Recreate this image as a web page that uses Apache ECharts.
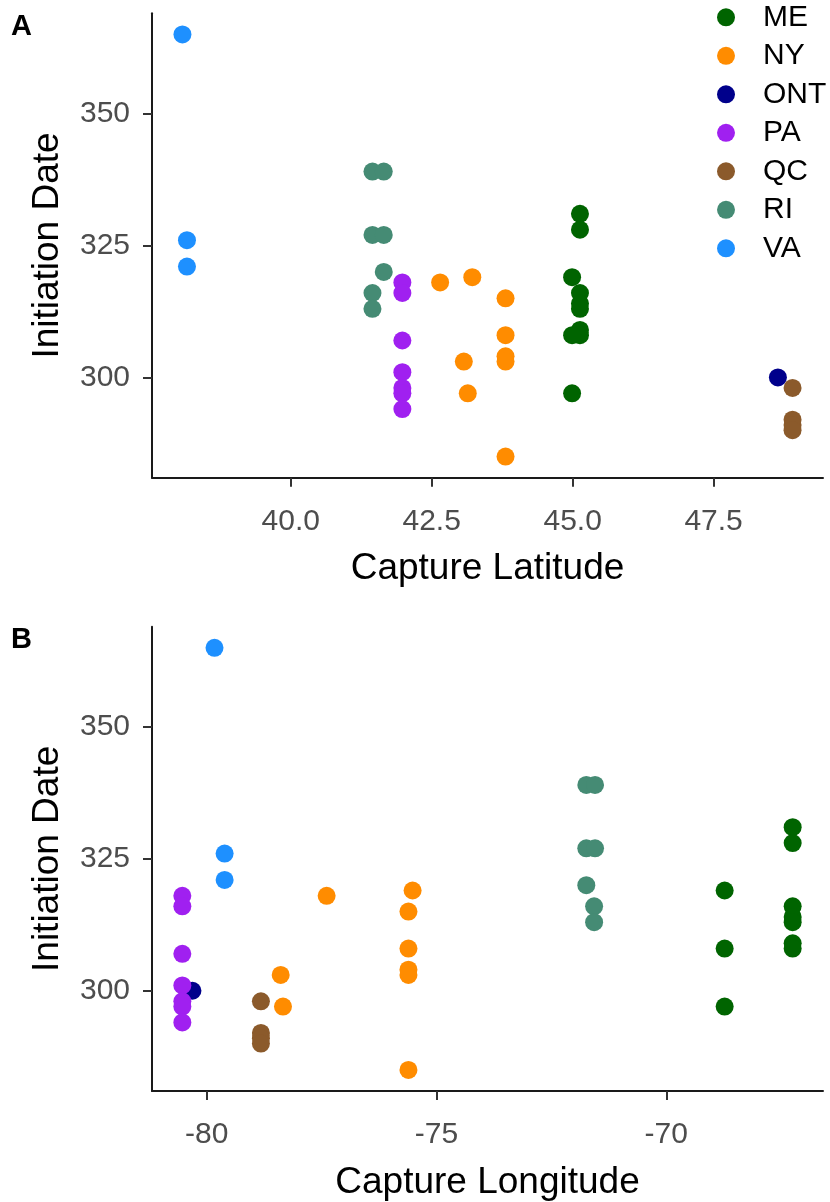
<!DOCTYPE html>
<html>
<head>
<meta charset="utf-8">
<script src="https://cdn.jsdelivr.net/npm/echarts@6/dist/echarts.min.js"></script>
<style>html,body{margin:0;padding:0;background:#fff}#c{width:830px;height:1202px}</style>
</head>
<body>
<div id="c"></div>
<script>
// ---- data ----
const states = ['ME', 'NY', 'ONT', 'PA', 'QC', 'RI', 'VA'];
const stateColors = ['#006400', '#FF8C00', '#00008B', '#A020F0', '#8B5A2B', '#458B74', '#1E90FF'];

const meDate = [331, 328, 316, 314, 313, 309, 308, 319, 308, 297];
const meLat  = [45.13, 45.13, 45.13, 45.13, 45.13, 45.13, 45.13, 44.99, 44.99, 44.99];
const meLon  = [-67.25, -67.25, -67.25, -67.25, -67.25, -67.25, -67.25, -68.73, -68.73, -68.73];

const nyDate = [318, 319, 315, 308, 304, 303, 285, 303, 297];
const nyLat  = [42.65, 43.22, 43.81, 43.81, 43.81, 43.81, 43.81, 43.07, 43.14];
const nyLon  = [-77.39, -75.52, -75.61, -75.61, -75.61, -75.61, -75.61, -78.39, -78.34];

const ontDate = [300];
const ontLat  = [48.64];
const ontLon  = [-80.31];

const paDate = [318, 316, 307, 301, 298, 297, 294];
const paLat  = [41.98, 41.98, 41.98, 41.98, 41.98, 41.98, 41.98];
const paLon  = [-80.53, -80.53, -80.53, -80.53, -80.53, -80.53, -80.53];

const qcDate = [298, 292, 291, 290];
const qcLat  = [48.9, 48.9, 48.9, 48.9];
const qcLon  = [-78.82, -78.82, -78.82, -78.82];

const riDate = [339, 339, 327, 327, 320, 316, 313];
const riLat  = [41.45, 41.65, 41.45, 41.65, 41.65, 41.45, 41.45];
const riLon  = [-71.74, -71.55, -71.74, -71.55, -71.74, -71.57, -71.57];

const vaDate = [365, 326, 321];
const vaLat  = [38.08, 38.16, 38.16];
const vaLon  = [-79.83, -79.61, -79.61];

const latTicks = [40, 42.5, 45, 47.5];
const lonTicks = [-80, -75, -70];
const dateTicks = [300, 325, 350];

// ---- build ----
const groups = [
  [meDate, meLat, meLon], [nyDate, nyLat, nyLon], [ontDate, ontLat, ontLon],
  [paDate, paLat, paLon], [qcDate, qcLat, qcLon], [riDate, riLat, riLon], [vaDate, vaLat, vaLon]
];

const series = [];
groups.forEach((g, i) => {
  const [d, la, lo] = g;
  series.push({
    name: states[i], type: 'scatter', xAxisIndex: 0, yAxisIndex: 0,
    symbolSize: 18, itemStyle: { color: stateColors[i], opacity: 1 },
    data: d.map((v, k) => [la[k], v])
  });
});
groups.forEach((g, i) => {
  const [d, la, lo] = g;
  series.push({
    name: states[i], type: 'scatter', xAxisIndex: 1, yAxisIndex: 1,
    symbolSize: 18, itemStyle: { color: stateColors[i], opacity: 1 },
    data: d.map((v, k) => [lo[k], v])
  });
});

const FONT = 'Liberation Sans, Arial, sans-serif';
const axLine = { show: true, onZero: false, lineStyle: { color: '#1a1a1a', width: 2 } };
function tick(vals) { return { show: true, inside: false, length: 9, lineStyle: { color: '#333', width: 2 }, customValues: vals }; }

function xAxis(idx, min, max, vals, name, fmt) {
  return {
    type: 'value', gridIndex: idx, min: min, max: max,
    splitLine: { show: false }, axisLine: axLine, axisTick: tick(vals),
    axisLabel: { customValues: vals, fontSize: 30, fontFamily: FONT, color: '#4D4D4D', margin: 29, formatter: fmt },
    name: name, nameLocation: 'middle', nameGap: 73,
    nameTextStyle: { fontSize: 37, fontFamily: FONT, color: '#000' }
  };
}
function yAxis(idx) {
  return {
    type: 'value', gridIndex: idx, min: 281, max: 369,
    splitLine: { show: false }, axisLine: axLine, axisTick: tick(dateTicks),
    axisLabel: { customValues: dateTicks, fontSize: 30, fontFamily: FONT, color: '#4D4D4D', margin: 22 },
    name: 'Initiation Date', nameLocation: 'middle', nameGap: 86,
    nameTextStyle: { fontSize: 37, fontFamily: FONT, color: '#000' }
  };
}

const option = {
  animation: false,
  backgroundColor: '#fff',
  grid: [
    { left: 152, top: 13.3, width: 671, height: 464.4 },
    { left: 152, top: 626.7, width: 671, height: 465 }
  ],
  xAxis: [
    xAxis(0, 37.54, 49.44, latTicks, 'Capture Latitude', v => v.toFixed(1)),
    xAxis(1, -81.19, -66.59, lonTicks, 'Capture Longitude', v => String(v))
  ],
  yAxis: [yAxis(0), yAxis(1)],
  legend: {
    data: states, orient: 'vertical', left: 717, top: 2.3, padding: 0,
    icon: 'circle', itemWidth: 18, itemHeight: 18, itemGap: 8.5,
    textStyle: { fontSize: 30, lineHeight: 30, fontFamily: FONT, color: '#000', padding: [0, 0, 0, 23] },
    selectedMode: false
  },
  graphic: [
    { type: 'text', left: 11, top: 12, style: { text: 'A', fontSize: 29, fontWeight: 'bold', fontFamily: FONT, fill: '#000' } },
    { type: 'text', left: 11, top: 625, style: { text: 'B', fontSize: 29, fontWeight: 'bold', fontFamily: FONT, fill: '#000' } }
  ],
  series: series
};

const chart = echarts.init(document.getElementById('c'), null, { renderer: 'canvas' });
chart.setOption(option);
</script>
</body>
</html>
